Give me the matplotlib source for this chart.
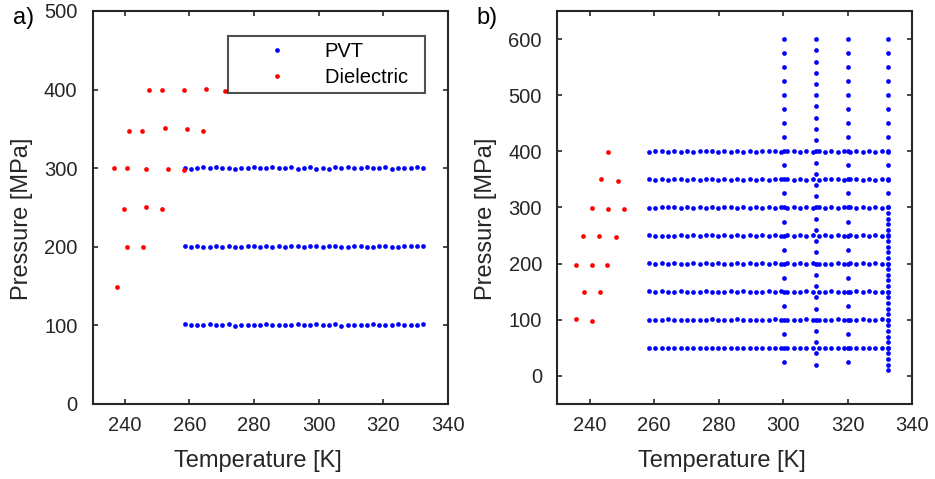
import numpy as np
import matplotlib
matplotlib.use('Agg')
import matplotlib.pyplot as plt

plt.rcParams['font.family'] = ['Liberation Sans', 'DejaVu Sans']

# temperaturas das isobaras PVT (K)
T_pvt = [258.5, 260.4, 262.4, 264.3, 266.3, 268.2, 270.2, 272.1, 274.1, 276.0,
         278.0, 279.9, 281.8, 283.8, 285.7, 287.7, 289.6, 291.6, 293.5, 295.5,
         297.4, 299.3, 301.3, 303.2, 305.2, 307.1, 309.1, 311.0, 313.0, 314.9,
         316.9, 318.8, 320.7, 322.7, 324.6, 326.6, 328.5, 330.5, 332.4]

# painel a) - isobaras PVT (MPa)
a_p100 = [101.2, 100.0, 100.8, 99.9, 101.3, 100.2, 100.9, 101.4, 99.8, 100.6,
          101.1, 100.0, 100.7, 101.3, 99.9, 100.5, 101.0, 100.2, 101.4, 100.1,
          100.8, 101.2, 100.0, 100.6, 101.3, 99.8, 100.7, 101.1, 100.3, 100.9,
          101.4, 100.0, 100.6, 100.9, 101.2, 99.9, 100.5, 101.0, 101.3]
a_p200 = [201.4, 199.8, 201.2, 200.1, 199.6, 201.0, 199.9, 201.3, 200.2, 199.7,
          200.9, 201.5, 199.6, 200.8, 200.3, 201.2, 199.7, 200.6, 201.0, 199.8,
          200.4, 201.3, 199.9, 200.7, 201.5, 200.0, 199.6, 200.9, 201.2, 200.1,
          199.7, 200.8, 201.4, 200.2, 199.6, 200.7, 201.3, 200.4, 200.9]
a_p300 = [300.2, 299.3, 300.8, 301.3, 299.8, 301.0, 299.6, 300.5, 299.4, 300.7,
          299.8, 301.2, 299.7, 300.4, 301.3, 299.9, 300.6, 301.1, 299.5, 300.3,
          301.0, 299.4, 300.8, 299.2, 300.9, 300.2, 301.4, 299.8, 300.6, 301.3,
          299.9, 300.7, 301.1, 299.3, 300.5, 299.6, 300.2, 301.0, 299.8]

# painel a) - dados dieletricos
a_diel_T = [237.6, 240.7, 245.5, 239.6, 246.5, 251.4, 236.5, 240.6, 246.5, 253.4,
            258.4, 241.4, 245.4, 252.4, 259.3, 264.1, 247.6, 251.5, 258.4, 265.1,
            271.0]
a_diel_p = [148.9, 199.7, 199.7, 248.5, 251.0, 248.5, 300.3, 299.9, 299.0, 299.0,
            297.7, 347.7, 347.7, 350.8, 349.9, 347.7, 399.9, 399.9, 399.9, 401.0,
            398.6]

# painel b) - isobaras PVT (MPa)
b_p50 = [50.3, 50.1, 50.6, 50.0, 50.2, 50.5, 49.9, 50.4, 50.1, 49.8,
         50.3, 50.6, 50.0, 50.2, 49.7, 50.4, 50.1, 50.5, 49.9, 50.3,
         50.0, 50.6, 49.8, 50.2, 50.4, 49.9, 50.5, 50.1, 49.7, 50.3,
         50.6, 50.0, 50.2, 49.8, 50.4, 50.1, 50.5, 49.9, 50.3]
b_p100 = [100.3, 99.6, 99.9, 100.5, 99.7, 100.2, 99.5, 100.4, 99.8, 100.1,
          100.6, 99.7, 100.3, 99.9, 100.5, 99.6, 100.2, 99.8, 100.4, 99.5,
          100.6, 99.9, 100.3, 99.7, 100.1, 100.5, 99.8, 100.4, 99.6, 100.2,
          100.6, 99.9, 100.3, 99.7, 100.5, 99.8, 100.2, 100.6, 99.9]
b_p150 = [150.6, 149.9, 150.4, 149.6, 150.2, 150.5, 149.8, 150.3, 149.7, 150.6,
          149.8, 150.2, 149.5, 150.4, 149.9, 150.5, 149.6, 150.3, 150.0, 150.6,
          149.7, 150.4, 149.8, 150.2, 149.6, 150.5, 149.9, 150.3, 149.7, 150.6,
          149.8, 150.1, 149.6, 150.4, 149.9, 150.5, 149.7, 150.2, 149.8]
b_p200 = [200.4, 200.0, 200.8, 199.7, 200.3, 199.5, 200.2, 200.6, 199.9, 200.4,
          199.6, 200.5, 200.1, 199.7, 200.7, 199.8, 200.3, 199.5, 200.6, 200.0,
          200.4, 199.7, 200.5, 199.9, 200.3, 199.6, 200.6, 199.8, 200.2, 199.5,
          200.4, 199.9, 200.7, 199.7, 200.3, 199.6, 200.5, 199.8, 200.2]
b_p250 = [250.5, 249.5, 250.0, 249.3, 249.9, 250.6, 249.7, 250.3, 249.4, 250.2,
          250.7, 249.6, 250.1, 249.5, 250.5, 249.8, 250.2, 249.4, 250.6, 249.9,
          250.3, 249.6, 250.4, 249.7, 250.5, 249.8, 250.2, 249.5, 250.4, 249.9,
          250.6, 249.7, 250.1, 249.5, 250.3, 249.8, 250.5, 249.6, 250.2]
b_p300 = [299.1, 299.8, 300.4, 300.1, 300.6, 299.5, 300.2, 299.6, 300.5, 299.8,
          300.3, 299.4, 300.7, 300.0, 299.5, 300.4, 299.7, 300.6, 299.9, 300.2,
          299.6, 300.5, 299.8, 300.3, 299.5, 300.6, 299.9, 300.2, 299.6, 300.4,
          299.8, 300.5, 300.0, 299.6, 300.3, 299.7, 300.4, 299.9, 300.2]
b_p350 = [350.6, 349.6, 350.3, 349.2, 349.9, 350.7, 349.8, 350.4, 349.3, 350.2,
          350.8, 349.5, 350.1, 349.7, 350.6, 349.4, 350.3, 349.8, 350.5, 349.6,
          350.2, 349.9, 350.4, 349.6, 350.7, 349.8, 350.1, 349.4, 350.5, 349.9,
          350.3, 349.6, 350.6, 350.0, 349.5, 350.4, 349.8, 350.2, 349.7]
b_p400 = [398.9, 400.2, 400.8, 399.6, 400.5, 399.2, 400.1, 399.4, 400.6, 399.8,
          400.3, 399.1, 400.4, 399.6, 400.9, 399.5, 400.2, 399.3, 400.7, 399.9,
          400.4, 399.5, 399.8, 400.3, 399.6, 400.1, 399.3, 400.6, 399.7, 400.2,
          399.4, 400.5, 399.6, 400.0, 399.3, 400.4, 399.7, 400.1, 399.5]

# painel b) - isotermas PVT
T_iso = [300.2, 310.1, 320.1, 332.5]
iso300_p = [600, 575, 550, 525, 500, 475, 450, 425, 400, 375, 350, 325,
            300, 275, 250, 225, 200, 175, 150, 125, 100, 75, 50, 25]
iso310_p = [600, 580, 560, 540, 520, 500, 480, 460, 440, 420, 400, 380, 360, 340, 320,
            300, 280, 260, 240, 220, 200, 180, 160, 140, 120, 100, 80, 60, 40, 20]
iso320_p = [600, 575, 550, 525, 500, 475, 450, 425, 400, 375, 350, 325,
            300, 275, 250, 225, 200, 175, 150, 125, 100, 75, 50, 25]
iso333_p = [600, 575, 550, 525, 500, 475, 450, 425, 400, 375, 350, 325,
            300, 290, 280, 270, 260, 250, 240, 230, 220, 210, 200, 190, 180, 170,
            160, 150, 140, 130, 120, 110, 100, 90, 80, 70, 60, 50, 40, 30, 20, 10]

# painel b) - dados dieletricos
b_diel_T = [235.7, 240.7, 238.2, 243.2, 235.7, 240.7, 245.5, 238.1, 243.0, 248.3,
            240.7, 245.6, 250.7, 243.4, 248.7, 245.6]
b_diel_p = [100.7, 97.7, 149.2, 149.2, 197.2, 197.2, 198.4, 250.0, 250.0, 247.0,
            299.7, 296.7, 297.0, 350.0, 346.5, 398.0]

COR_EIXO = '#262626'
AZUL = (0, 0, 1)
VERMELHO = (1, 0, 0)

fig = plt.figure(figsize=(9.35, 4.79), dpi=100)
ax1 = fig.add_axes([0.0991, 0.1566, 0.3797, 0.8205])
ax2 = fig.add_axes([0.596, 0.1566, 0.3797, 0.8205])

# painel a)
Ta = np.concatenate([T_pvt] * 3)
pa = np.concatenate([a_p100, a_p200, a_p300])
ax1.plot(Ta, pa, 'o', color=AZUL, ms=3.4, mew=0, label='PVT')
ax1.plot(a_diel_T, a_diel_p, 'o', color=VERMELHO, ms=3.4, mew=0, label='Dielectric')
ax1.set_xlim(230, 340)
ax1.set_ylim(0, 500)
ax1.set_yticks(np.arange(0, 501, 100))

# painel b)
linhas = [b_p50, b_p100, b_p150, b_p200, b_p250, b_p300, b_p350, b_p400]
Tb = np.concatenate([T_pvt] * len(linhas))
pb = np.concatenate(linhas)
isos = [iso300_p, iso310_p, iso320_p, iso333_p]
Tb = np.concatenate([Tb] + [np.full(len(p), t) for t, p in zip(T_iso, isos)])
pb = np.concatenate([pb] + [np.array(p, dtype=float) for p in isos])
ax2.plot(Tb, pb, 'o', color=AZUL, ms=3.4, mew=0)
ax2.plot(b_diel_T, b_diel_p, 'o', color=VERMELHO, ms=3.4, mew=0)
ax2.set_xlim(230, 340)
ax2.set_ylim(-50, 650)
ax2.set_yticks(np.arange(0, 601, 100))

for ax in (ax1, ax2):
    ax.set_xticks(np.arange(240, 341, 20))
    for s in ax.spines.values():
        s.set_linewidth(1.5)
        s.set_color(COR_EIXO)
    ax.tick_params(direction='in', top=True, right=True, length=3.5, width=1.2,
                   color=COR_EIXO, labelcolor=COR_EIXO, labelsize=14.5)
    ax.tick_params(axis='x', pad=9)
    ax.tick_params(axis='y', pad=11)
    ax.set_xlabel('Temperature [K]', fontsize=17, color=COR_EIXO)
    ax.set_ylabel('Pressure [MPa]', fontsize=17, color=COR_EIXO)
    ax.xaxis.set_label_coords(0.465, -0.118)
    ax.yaxis.label.set_va('center')
    ax.yaxis.set_label_coords(-0.2, 0.47)

fig.text(0.014, 0.985, 'a)', fontsize=17, va='top', ha='left', color='black')
fig.text(0.510, 0.985, 'b)', fontsize=17, va='top', ha='left', color='black')

leg = ax1.legend(loc='upper left', bbox_to_anchor=(0.382, 0.936), fontsize=14.5,
                 frameon=True, fancybox=False, borderpad=0.31, handlelength=4.26,
                 handletextpad=0.21, labelspacing=0.31, borderaxespad=0)
leg.get_frame().set_edgecolor(COR_EIXO)
leg.get_frame().set_linewidth(1.5)
for t in leg.get_texts():
    t.set_color('black')
# alarga a moldura da legenda até a largura da original
leg.get_texts()[1].set_text('Dielectric  ')

fig.savefig('out.png', dpi=100)
